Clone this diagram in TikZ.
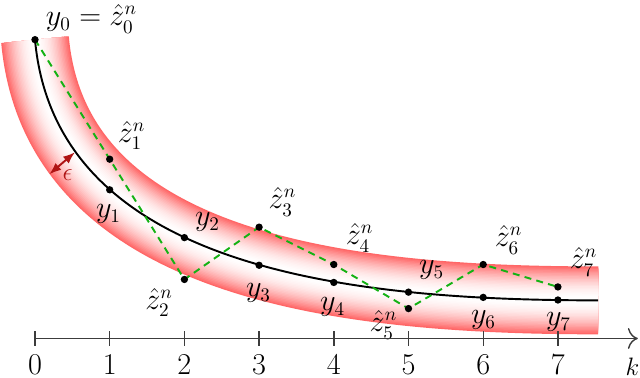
\documentclass[tikz,border=0pt]{standalone}
\usepackage{amsmath,amssymb}
\usepackage{xcolor}
\usepackage{tikz}
\usetikzlibrary{
  arrows.meta,
  positioning
}
\definecolor{tubered}{RGB}{255,60,60}
\definecolor{itergreen}{RGB}{20,178,20}
\definecolor{epsred}{RGB}{175,20,20}
\definecolor{axisgray}{RGB}{60,60,60}
\tikzset{
  trackline/.style={line width=1.1pt,draw=black},
  iterline/.style={line width=1.1pt,draw=itergreen,dash pattern=on 4pt off 3pt},
  pointdot/.style={fill=black},
  axisline/.style={thick,draw=axisgray,-{To[length=2mm]}},
  tickline/.style={thick,draw=axisgray},
  epsflow/.style={{Latex[length=2.4mm]}-{Latex[length=2.4mm]},line width=1.1pt,draw=epsred},
  lab/.style={font=\fontsize{16}{19}\selectfont,inner sep=0pt},
  ticklab/.style={font=\LARGE,inner sep=0pt}
}
\newcommand{\trackpath}{(y0) .. controls (0.28,0.9) and (4.29,0.51) .. (yend)}

\begin{document}
\begin{tikzpicture}[x=1.5cm,y=1.5cm]
  \useasboundingbox (-0.4685,-0.529) rectangle (8.099,4.531);
  % points of the track and of the iterates
  \coordinate (y0) at (0,4);
  \coordinate (z0) at (y0);
  \coordinate (yend) at (7.54,0.51);
  \foreach \k/\yv/\zv in {1/1.99/2.40,2/1.35/0.79,3/0.98/1.49,4/0.75/0.99,
      5/0.62/0.40,6/0.55/0.99,7/0.515/0.69}{
    \coordinate (y\k) at (\k,\yv);
    \coordinate (z\k) at (\k,\zv);
  }
  % epsilon tube
  \foreach \i [evaluate=\i as \w using 38.8*(1-\i/24),
      evaluate=\i as \c using 78*(1-\i/24)^2] in {0,...,23}
    \draw[line width=\w pt,draw=tubered!\c!white] \trackpath;
  \draw[trackline] \trackpath;
  \draw[iterline] (z0)--(z1)--(z2)--(z3)--(z4)--(z5)--(z6)--(z7);
  \foreach \p in {y0,y1,y2,y3,y4,y5,y6,y7,z1,z2,z3,z4,z5,z6,z7}
    \fill[pointdot] (\p) circle[radius=2.1pt];
  % radius of the tube
  \coordinate (epsA) at (0.191,2.198);
  \coordinate (epsB) at (0.535,2.493);
  \draw[epsflow] (epsA)--(epsB);
  \node[font=\Large,inner sep=0pt,text=epsred] (epslab) at (0.435,2.188) {$\epsilon$};
  % labels
  \node[lab] (y0lab) at (0.756,4.277) {$y_0=\hat{z}_0^n$};
  \node[lab] (z1lab) at (1.292,2.718) {$\hat{z}_1^n$};
  \node[lab] (y1lab) at (0.984,1.667) {$y_1$};
  \node[lab] (z2lab) at (1.660,0.482) {$\hat{z}_2^n$};
  \node[lab] (y2lab) at (2.309,1.560) {$y_2$};
  \node[lab] (z3lab) at (3.313,1.827) {$\hat{z}_3^n$};
  \node[lab] (y3lab) at (2.992,0.609) {$y_3$};
  \node[lab] (z4lab) at (4.344,1.345) {$\hat{z}_4^n$};
  \node[lab] (y4lab) at (3.983,0.422) {$y_4$};
  \node[lab] (y5lab) at (5.308,0.917) {$y_5$};
  \node[lab] (z5lab) at (4.665,0.181) {$\hat{z}_5^n$};
  \node[lab] (y6lab) at (6.004,0.248) {$y_6$};
  \node[lab] (z6lab) at (6.339,1.319) {$\hat{z}_6^n$};
  \node[lab] (z7lab) at (7.343,1.024) {$\hat{z}_7^n$};
  \node[lab] (y7lab) at (7.008,0.221) {$y_7$};
  % k axis
  \coordinate (korigin) at (0,0);
  \coordinate (kend) at (8.07,0);
  \draw[axisline] (korigin)--(kend);
  \foreach \k in {0,...,7}{
    \draw[tickline] (\k,-0.1)--(\k,0.1);
    \node[ticklab] (tick\k) at (\k,-0.355) {$\k$};
  }
  \node[font=\Large,inner sep=0pt] (klab) at (7.998,-0.375) {$k$};
\end{tikzpicture}
\end{document}
